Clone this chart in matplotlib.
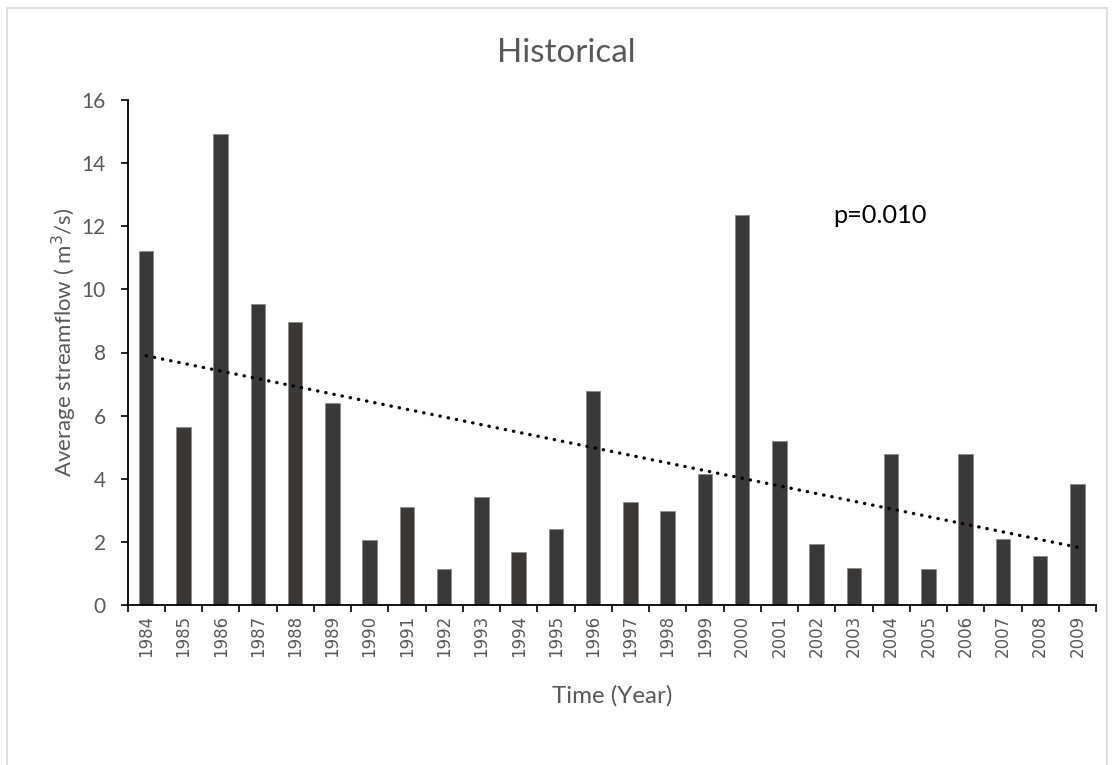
import numpy as np
import matplotlib
matplotlib.use("Agg")
import matplotlib.pyplot as plt
from matplotlib.patches import Rectangle

years = [str(y) for y in range(1984, 2010)]
streamflow = [11.22, 5.63, 14.92, 9.55, 8.96, 6.39, 2.06, 3.10, 1.14, 3.41,
              1.68, 2.40, 6.77, 3.25, 2.99, 4.15, 12.37, 5.19, 1.94, 1.18,
              4.79, 1.15, 4.79, 2.09, 1.55, 3.82]
title = "Historical"
p_label = "p=0.010"
ylabel = "Average streamflow ( m$^3$/s)"
xlabel = "Time (Year)"

plt.rcParams['font.family'] = ['Lato', 'DejaVu Sans']

W, H = 1114, 765
fig = plt.figure(figsize=(W / 100, H / 100), dpi=100)
ax = fig.add_axes([127.5 / W, 1 - 605 / H, (1096 - 127.5) / W, (605 - 100) / H])


def fx(px):
    return px / W


def fy(py):
    return 1 - py / H


x = np.arange(len(years))
ax.bar(x, streamflow, width=0.39, color='#3a3938', edgecolor='#8a8a8a',
       linewidth=0.6, zorder=2)

coef = np.polyfit(x, streamflow, 1)
trend = np.polyval(coef, x)
ax.plot(x, trend, color='black', linewidth=2.4,
        linestyle=(0, (0.1, 2.4)), dash_capstyle='round', zorder=3)

ax.set_xlim(-0.5, len(years) - 0.5)
ax.set_ylim(0, 16)
ax.set_yticks(np.arange(0, 17, 2))
ax.set_xticks(x)
ax.set_xticklabels(years, rotation=90, fontsize=12, color='#595959',
                   family=['DejaVu Sans'])
ax.set_xticks(np.arange(-0.5, len(years)), minor=True)
ax.tick_params(axis='x', which='major', length=0, pad=7)
ax.tick_params(axis='x', which='minor', length=5, width=1.2, color='black', direction='out')
ax.tick_params(axis='y', length=5, width=1.2, color='black', labelsize=15,
               labelcolor='#595959', pad=10.5)

for s in ['top', 'right']:
    ax.spines[s].set_visible(False)
for s in ['left', 'bottom']:
    ax.spines[s].set_linewidth(1.3)
    ax.spines[s].set_color('black')

ax.set_ylabel(ylabel, fontsize=16, color='#595959', va='baseline', ha='center')
ax.yaxis.set_label_coords(fx(72), fy(342), transform=fig.transFigure)
ax.set_xlabel(xlabel, fontsize=16, color='#595959', va='baseline', ha='center')
ax.xaxis.set_label_coords(fx(612), fy(703), transform=fig.transFigure)

t_title = fig.text(fx(566), fy(62), title, fontsize=22, color='#595959',
                   ha='center', va='baseline')
t_p = fig.text(fx(833), fy(223), p_label, fontsize=17, color='black',
               ha='left', va='baseline')

# scale text sizes to the measured extents of the reference
fig.canvas.draw()
r = fig.canvas.get_renderer()


def fit(t, target, vertical=False):
    bb = t.get_window_extent(r)
    cur = bb.height if vertical else bb.width
    t.set_fontsize(t.get_fontsize() * target / cur)


fit(t_title, 138)
fit(t_p, 94)
fit(ax.xaxis.label, 121)
fit(ax.yaxis.label, 270, vertical=True)

fig.patches.append(Rectangle((fx(7), -0.05), (1107 - 7) / W, 1.05 - 8 / H,
                             transform=fig.transFigure, fill=False,
                             edgecolor='#d9d9d9', linewidth=1.2))

fig.savefig("out.png", dpi=100, facecolor='white')
